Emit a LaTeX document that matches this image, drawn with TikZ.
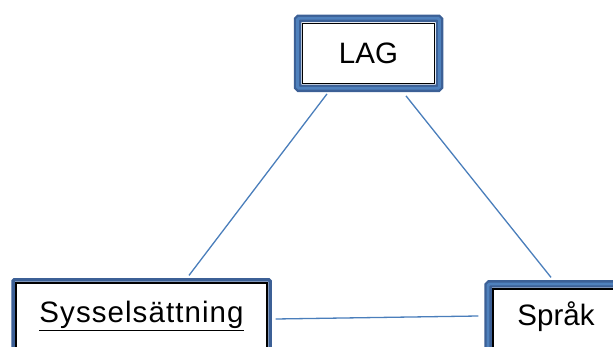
\documentclass[tikz,border=0pt]{standalone}
\usepackage{fontspec}
\setmainfont{Liberation Sans}
\usepackage{tikz}
\definecolor{framedark}{HTML}{3C6096}
\definecolor{framelight}{HTML}{4F81BD}
\definecolor{linkblue}{HTML}{4A7EBB}
\tikzset{word/.style={draw=black, line width=1.2pt, fill=white, inner sep=0pt,
  anchor=base, font=\fontsize{29.5}{34}\selectfont}}
\tikzset{thickframe/.style={draw=framedark, line width=2.3pt, double=framelight,
  double distance=2.9pt, rounded corners=1.5pt}}
\tikzset{thinframe/.style={draw=framedark, line width=3.5pt, rounded corners=1pt}}
\tikzset{link/.style={draw=linkblue, line width=1.3pt}}

\begin{document}
\begin{tikzpicture}[x=1pt, y=-1pt]

\useasboundingbox (0,0) rectangle (613,347);
\clip (0,0) rectangle (613,347);

\node[word, minimum width=132pt, text height=40pt, text depth=20pt] (lag) at (368.5,63.3) {LAG};
\node[word, minimum width=251pt, text height=40pt, text depth=40pt] (syss) at (141.5,323)
  {\addfontfeature{LetterSpace=3.6}\underline{Sysselsättning}};
\node[word, minimum width=126pt, text height=36pt, text depth=40pt] (spr) at (556,325) {Språk};

\draw[thickframe] ([shift={(-4.4,-4.4)}]lag.north west) rectangle ([shift={(4.4,4.4)}]lag.south east);
\draw[thinframe] ([shift={(-2.4,-2.4)}]syss.north west) rectangle ([shift={(2.4,2.4)}]syss.south east);
\draw[thickframe] ([shift={(-4.4,-4.4)}]spr.north west) rectangle ([shift={(4.4,4.4)}]spr.south east);

\draw[link] ([shift={(-41.5,10)}]lag.south) -- ([shift={(47.5,-7)}]syss.north);
\draw[link] ([shift={(37.5,12)}]lag.south) -- ([shift={(-5,-11)}]spr.north);
\draw[link] ([shift={(8,-4)}]syss.east) -- ([shift={(-14,-11)}]spr.west);

\end{tikzpicture}
\end{document}
